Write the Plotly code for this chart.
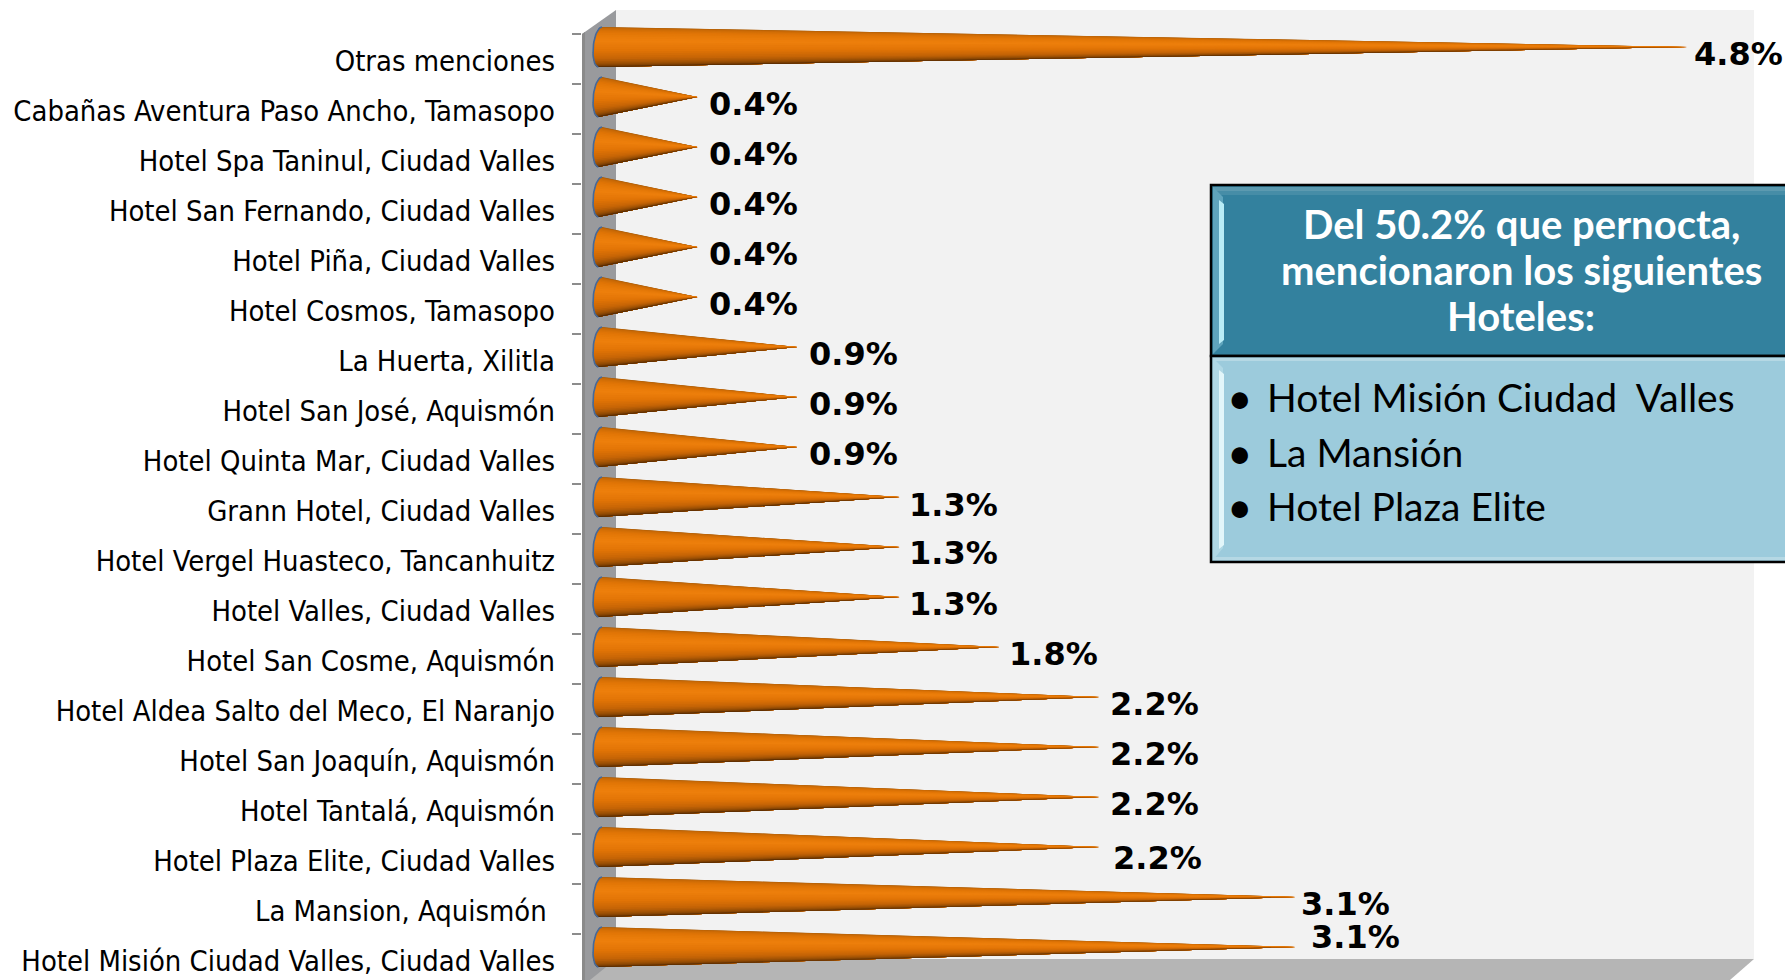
import math
import plotly.graph_objects as go

# ---------- data ----------
categories = [
    "Otras menciones",
    "Cabañas Aventura Paso Ancho, Tamasopo",
    "Hotel Spa Taninul, Ciudad Valles",
    "Hotel San Fernando, Ciudad Valles",
    "Hotel Piña, Ciudad Valles",
    "Hotel Cosmos, Tamasopo",
    "La Huerta, Xilitla",
    "Hotel San José, Aquismón",
    "Hotel Quinta Mar, Ciudad Valles",
    "Grann Hotel, Ciudad Valles",
    "Hotel Vergel Huasteco, Tancanhuitz",
    "Hotel Valles, Ciudad Valles",
    "Hotel San Cosme, Aquismón",
    "Hotel Aldea Salto del Meco, El Naranjo",
    "Hotel San Joaquín, Aquismón",
    "Hotel Tantalá, Aquismón",
    "Hotel Plaza Elite, Ciudad Valles",
    "La Mansion, Aquismón ",
    "Hotel Misión Ciudad Valles, Ciudad Valles",
]
values = [4.8, 0.44, 0.44, 0.44, 0.44, 0.44, 0.88, 0.88, 0.88, 1.33, 1.33, 1.33,
          1.77, 2.21, 2.21, 2.21, 2.21, 3.075, 3.075]
value_labels = ["4.8%", "0.4%", "0.4%", "0.4%", "0.4%", "0.4%", "0.9%", "0.9%", "0.9%",
                "1.3%", "1.3%", "1.3%", "1.8%", "2.2%", "2.2%", "2.2%", "2.2%", "3.1%", "3.1%"]
box_title = ["Del 50.2% que pernocta,", "mencionaron los siguientes", "Hoteles:"]
box_items = ["Hotel Misión Ciudad  Valles", "La Mansión", "Hotel Plaza Elite"]

# ---------- styling / layout ----------
W, H = 1785, 980
PL, PR = 582, 1754           # plot area in page pixels
PX_PER_UNIT = 227.0
ZERO_PX = 597.5
PX_PER_ROW = 50.0
ROW0_PX = 47.0
x_range = [(PL - ZERO_PX) / PX_PER_UNIT, (PR - ZERO_PX) / PX_PER_UNIT]
y_range = [(H - ROW0_PX) / PX_PER_ROW, (0 - ROW0_PX) / PX_PER_ROW]
HALF_H = 20.0 / PX_PER_ROW   # cone radius in rows
ELL_A = 7.0 / PX_PER_UNIT
ELL_SKEW = 1.8 / PX_PER_UNIT
ELL_CX = 2.7 / PX_PER_UNIT

def px(x): return (x - PL) / (PR - PL)
def py(y): return 1 - y / H

# colour across the cone: angle 0 (top edge) -> 1 (bottom edge)
shade_stops = [(0.0, (160, 88, 8)), (0.10, (198, 104, 6)), (0.25, (226, 118, 6)), (0.40, (238, 128, 12)),
               (0.55, (226, 116, 6)), (0.70, (196, 100, 6)), (0.85, (140, 72, 4)), (1.0, (66, 32, 2))]

def shade(t):
    for (a, ca), (b, cb) in zip(shade_stops, shade_stops[1:]):
        if t <= b:
            f = (t - a) / (b - a)
            return "rgb(%d,%d,%d)" % tuple(round(p + (q - p) * f) for p, q in zip(ca, cb))
    return "rgb(66,32,2)"

def base_point(phi, row):
    tt = -math.cos(phi)
    x = ELL_CX - ELL_A * math.sin(phi) - ELL_SKEW * tt
    return x, row + HALF_H * tt

fig = go.Figure()

# painter's layers: each layer covers from its angle to the bottom of the cone, so no seams appear
N = 28
for j in range(N):
    xs, ys = [], []
    for row, v in enumerate(values):
        for k in range(j, N + 1):
            a = base_point(math.pi * k / N, row)
            xs.append(a[0]); ys.append(a[1])
        xs += [v, None]; ys += [row, None]
    fig.add_trace(go.Scatter(x=xs, y=ys, mode="none", fill="toself", fillcolor=shade((j + 0.5) / N),
                             hoverinfo="skip", showlegend=False))

# blue rim on the cone bases
rx, ry = [], []
for row in range(len(values)):
    for k in range(25):
        a = base_point(math.pi * k / 24, row)
        rx.append(a[0]); ry.append(a[1])
    rx.append(None); ry.append(None)
fig.add_trace(go.Scatter(x=rx, y=ry, mode="lines", line=dict(color="#43699c", width=1.6),
                         hoverinfo="skip", showlegend=False))

# value labels
label_dx = {0: -5, 9: -2, 10: -2, 11: -2, 12: -2, 13: -1, 14: -1, 15: -1, 16: 2, 17: -7, 18: 3}
label_dy = {9: 1, 10: -1, 16: 4, 18: -17}
anns = []
for row, (v, lab) in enumerate(zip(values, value_labels)):
    anns.append(dict(x=v, y=row, xref="x", yref="y", text="<b>%s</b>" % lab, showarrow=False,
                     xanchor="left", yanchor="middle",
                     xshift=10 + label_dx.get(row, 0), yshift=-(7 + label_dy.get(row, 0)),
                     font=dict(family="DejaVu Sans", size=32, color="#000000")))

# walls
def poly(pts, fill, layer="below", lw=0, lc=None):
    path = "M " + " L ".join("%f,%f" % (px(a), py(b)) for a, b in pts) + " Z"
    return dict(type="path", xref="paper", yref="paper", path=path, fillcolor=fill,
                line=dict(width=lw, color=lc or fill), layer=layer)

def rect(x0, y0, x1, y1, fill, layer="above", lw=0, lc=None):
    return poly([(x0, y0), (x1, y0), (x1, y1), (x0, y1)], fill, layer, lw, lc)

shapes = [
    rect(616, 10, 1754, 959, "#f2f2f2", "below"),
    poly([(582, 34), (616, 10), (616, 959), (582, 990)], "#999a9d"),
    poly([(616, 959), (1754, 959), (1730, 980), (590, 980)], "#b5b5b5"),
    poly([(582, 34), (585, 32), (585, 990), (582, 990)], "#8a8a8a"),
]

# text box
BX = 1211
shapes += [
    rect(BX, 185, W + 4, 356, "#33819e", lw=2.5, lc="#000000"),
    rect(BX, 356, W + 4, 562, "#9ccbdc", lw=2.5, lc="#000000"),
    rect(BX + 2, 187, W, 191, "#5c9ab0"),
    rect(BX + 2, 191, W, 195, "#468da7"),
    rect(BX + 2, 358, W, 361, "#b5d8e4"),
    rect(BX + 2, 557, W, 560, "#b5d8e4"),
    poly([(BX + 2, 187), (BX + 12, 197), (BX + 12, 344), (BX + 2, 354)], "#5fa4bc", "above"),
    poly([(BX + 8, 200), (BX + 13, 204), (BX + 13, 340), (BX + 8, 344)], "#b8ecf6", "above"),
    poly([(BX + 2, 358), (BX + 12, 368), (BX + 12, 548), (BX + 2, 560)], "#b0d8e5", "above"),
    poly([(BX + 8, 370), (BX + 13, 374), (BX + 13, 545), (BX + 8, 549)], "#e2f6fa", "above"),
]

for txt, yy in zip(box_title, [224, 270, 316]):
    anns.append(dict(x=px(1521), y=py(yy), xref="paper", yref="paper", text="<b>%s</b>" % txt,
                     showarrow=False, xanchor="center", yanchor="middle", align="center",
                     font=dict(family="Lato", size=40, color="#ffffff")))
for txt, yy in zip(box_items, [397, 452, 506]):
    anns.append(dict(x=px(1233), y=py(yy), xref="paper", yref="paper", text="•", showarrow=False,
                     xanchor="center", yanchor="middle", xshift=7, font=dict(family="Lato", size=44, color="#000000")))
    anns.append(dict(x=px(1265), y=py(yy), xref="paper", yref="paper", text=txt, showarrow=False,
                     xanchor="left", yanchor="middle", font=dict(family="Lato", size=39, color="#000000")))

fig.update_layout(
    width=W, height=H, margin=dict(l=PL, r=W - PR, t=0, b=0, pad=0),
    paper_bgcolor="#ffffff", plot_bgcolor="rgba(0,0,0,0)", showlegend=False,
    shapes=shapes, annotations=anns,
    xaxis=dict(range=x_range, visible=False, fixedrange=True),
    yaxis=dict(
        range=y_range, fixedrange=True, showgrid=False, zeroline=False, showline=False,
        tickmode="array", tickvals=[i + 0.28 for i in range(len(categories))], ticktext=categories,
        ticks="", ticklabelstandoff=26,
        tickfont=dict(family="DejaVu Sans Condensed", size=28.9, color="#000000"),
        minor=dict(tickmode="array", tickvals=[i - 0.26 for i in range(len(categories) + 1)],
                   ticks="outside", ticklen=9, tickcolor="#8c8c8c", tickwidth=2, showgrid=False),
    ),
)

fig.write_html("out.html", config=dict(displayModeBar=False),
               post_script="document.body.style.margin='0';document.body.style.overflow='hidden';")
